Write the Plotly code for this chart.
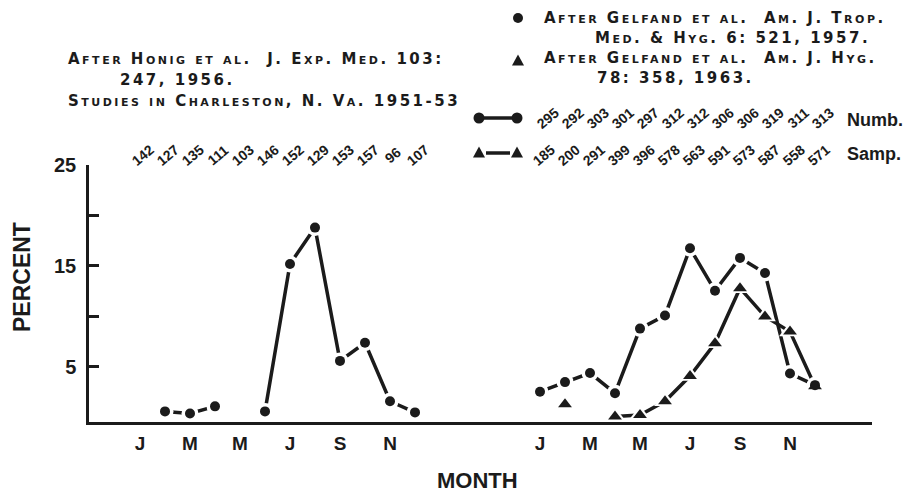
import plotly.graph_objects as go

# ---------------- data ----------------
months_a = list(range(12))            # Jan..Dec, first panel (Honig)
months_b = [16 + i for i in range(12)]  # Jan..Dec, second panel (Gelfand)
tick_vals = [0, 2, 4, 6, 8, 10, 16, 18, 20, 22, 24, 26]
tick_letters = ["J", "M", "M", "J", "S", "N", "J", "M", "M", "J", "S", "N"]

honig_pct = [None, 0.6, 0.4, 1.1, None, 0.6, 15.2, 18.8, 5.6, 7.4, 1.6, 0.5]
honig_n = [142, 127, 135, 111, 103, 146, 152, 129, 153, 157, 96, 107]

gelfand57_pct = [2.55, 3.5, 4.4, 2.4, 8.8, 10.1, 16.75, 12.55, 15.8, 14.3, 4.35, 3.2]
gelfand57_n = [295, 292, 303, 301, 297, 312, 312, 306, 306, 319, 311, 313]

gelfand63_pct = [None, 1.3, None, 0.1, 0.25, 1.6, 4.1, 7.35, 12.8, 10.0, 8.5, 3.1]
gelfand63_n = [185, 200, 291, 399, 396, 578, 563, 591, 573, 587, 558, 571]

# ---------------- layout geometry (pixels) ----------------
W, H = 910, 493
L, R, T, B = 89, 872, 165, 422
INK = "#1b1b1b"
FONT = "Liberation Sans"
NOTE = "DejaVu Sans"


def px(x):
    return (x - L) / (R - L)


def py(y):
    return (B - y) / (B - T)


fig = go.Figure()

series = [
    (months_a, honig_pct, "circle", 10),
    (months_b, gelfand57_pct, "circle", 10),
    (months_b, gelfand63_pct, "triangle-up", 12),
]
for xs, ys, sym, sz in series:
    fig.add_trace(go.Scatter(x=xs, y=ys, mode="lines", connectgaps=False,
                             line=dict(color=INK, width=3.5),
                             hoverinfo="skip", showlegend=False, cliponaxis=False))
for xs, ys, sym, sz in series:
    fig.add_trace(go.Scatter(x=xs, y=ys, mode="markers",
                             marker=dict(symbol=sym, size=sz + 7, color="white"),
                             hoverinfo="skip", showlegend=False, cliponaxis=False))
for xs, ys, sym, sz in series:
    fig.add_trace(go.Scatter(x=xs, y=ys, mode="markers",
                             marker=dict(symbol=sym, size=sz, color=INK),
                             showlegend=False, cliponaxis=False))

annotations = []


def txt(x, y, text, size=14, xanchor="left", angle=0, weight="bold",
        variant="normal", xref="paper", xshift=0, family=FONT):
    annotations.append(dict(
        x=x, y=y, xref=xref, yref="paper", text=text, showarrow=False,
        xanchor=xanchor, yanchor="middle", textangle=angle, xshift=xshift,
        font=dict(family=family, size=size, color=INK, weight=weight, variant=variant)))


def note(x, y, text):
    txt(px(x), py(y), '<span style="letter-spacing:2.5px">' + text + "</span>",
        size=15, variant="small-caps", family=NOTE)


# rotated sample-number rows
for m, n in zip(months_a, honig_n):
    txt(m, py(155), str(n), size=14, xanchor="center", angle=-40, xref="x", xshift=3)
for m, n in zip(months_b, gelfand57_n):
    txt(m, py(118), str(n), size=14, xanchor="center", angle=-40, xref="x", xshift=8)
for m, n in zip(months_b, gelfand63_n):
    txt(m, py(155), str(n), size=14, xanchor="center", angle=-40, xref="x", xshift=4)

txt(px(845), py(120), "Numb.", size=18)
txt(px(845), py(154), "Samp.", size=18)

# source notes
note(66, 59, "After Honig et al.\u00a0\u00a0J. Exp. Med. 103:")
note(118, 80, "247, 1956.")
note(66, 101, "Studies in Charleston, N. Va. 1951-53")

note(542, 18, "After Gelfand et al.\u00a0\u00a0Am. J. Trop.")
note(593, 38, "Med. & Hyg. 6: 521, 1957.")
note(542, 58, "After Gelfand et al.\u00a0\u00a0Am. J. Hyg.")
note(595, 78, "78: 358, 1963.")

# axis titles
txt(px(22), py(277), "PERCENT", size=23, xanchor="center", angle=-90)
txt(px(477), py(480), "MONTH", size=22, xanchor="center")

shapes = []


def circle(cx, cy, r):
    shapes.append(dict(type="circle", xref="paper", yref="paper",
                       x0=px(cx - r), x1=px(cx + r), y0=py(cy + r), y1=py(cy - r),
                       fillcolor=INK, line=dict(width=0)))


def tri(cx, cy, s):
    h = s * 0.9
    path = "M {} {} L {} {} L {} {} Z".format(
        px(cx - s / 2), py(cy + h / 2), px(cx + s / 2), py(cy + h / 2), px(cx), py(cy - h / 2))
    shapes.append(dict(type="path", xref="paper", yref="paper", path=path,
                       fillcolor=INK, line=dict(width=0)))


def seg(x0, x1, y):
    shapes.append(dict(type="line", xref="paper", yref="paper",
                       x0=px(x0), x1=px(x1), y0=py(y), y1=py(y),
                       line=dict(color=INK, width=3.5)))


# legend keys
circle(518, 18, 5)
tri(518, 60, 12)
seg(484, 512, 118)
circle(479, 118, 5.5)
circle(517, 118, 5.5)
seg(486, 510, 153)
tri(479, 152, 12)
tri(517, 152, 12)

fig.update_layout(
    width=W, height=H,
    margin=dict(l=L, r=W - R, t=T, b=H - B, autoexpand=False),
    paper_bgcolor="white", plot_bgcolor="white",
    annotations=annotations, shapes=shapes,
    xaxis=dict(range=[(L - 140) / 25, (R - 140) / 25], showgrid=False, zeroline=False,
               showline=True, linecolor=INK, linewidth=2.5,
               tickvals=tick_vals, ticktext=tick_letters, ticks="",
               ticklabelstandoff=2,
               tickfont=dict(family=FONT, size=19, color=INK, weight="bold")),
    yaxis=dict(range=[-0.45, 25], showgrid=False, zeroline=False,
               showline=True, linecolor=INK, linewidth=2.5,
               tickvals=[5, 10, 15, 20, 25], ticktext=["5", "", "15", "", "25"],
               ticks="inside", ticklen=10, tickwidth=2.5, tickcolor=INK,
               ticklabelstandoff=6,
               tickfont=dict(family=FONT, size=20, color=INK, weight="bold")),
    showlegend=False,
)

fig.write_html("out.html", config={"displayModeBar": False})

# remove the browser's default 8px body margin so the figure sits at the page origin
with open("out.html", "r", encoding="utf-8") as f:
    html = f.read()
html = html.replace("<head>", "<head><style>html,body{margin:0;padding:0;}</style>", 1)
with open("out.html", "w", encoding="utf-8") as f:
    f.write(html)
